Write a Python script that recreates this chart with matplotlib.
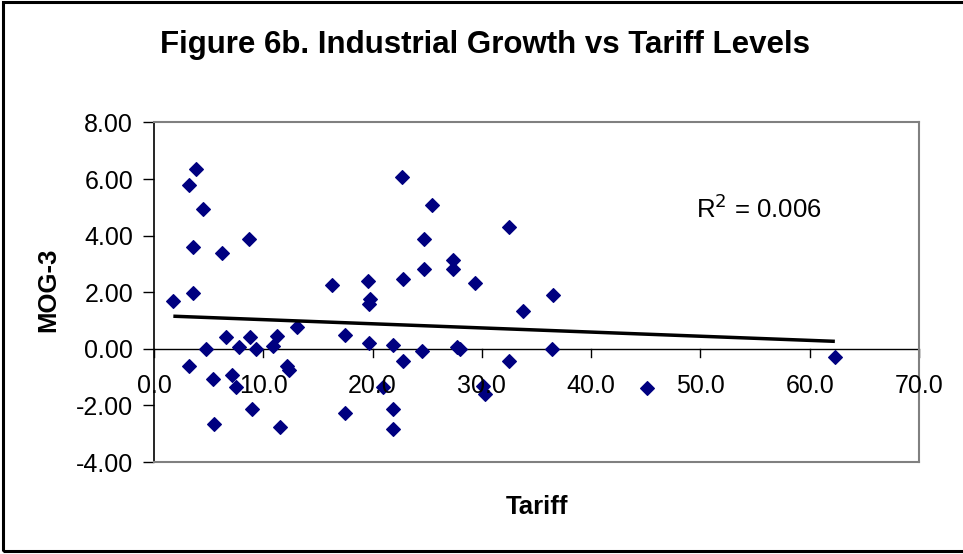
import numpy as np
import matplotlib
matplotlib.use('Agg')
import matplotlib.pyplot as plt
from matplotlib.patches import Rectangle

plt.rcParams['font.family'] = ['Liberation Sans', 'DejaVu Sans']

# 資料 (tariff, MOG-3)
tariff = [3.81, 3.23, 4.51, 3.60, 6.19, 8.72, 16.26, 3.60, 1.77,
          6.59, 8.78, 11.28, 13.11, 4.76, 7.80, 9.30, 10.92,
          3.23, 5.43, 7.11, 7.47, 12.14, 12.38, 8.94, 5.49, 11.53,
          22.66, 25.41, 32.50, 24.67, 27.40, 27.40, 24.67, 29.37,
          22.81, 19.55, 36.53, 19.76, 19.70, 33.79, 17.50, 19.70,
          21.90, 24.50, 27.70, 28.00, 22.80, 32.50, 36.40, 20.98,
          30.10, 30.30, 17.50, 21.90, 21.90, 62.30, 45.10]
mog3 = [6.35, 5.79, 4.94, 3.60, 3.37, 3.87, 2.27, 1.97, 1.68,
        0.41, 0.41, 0.44, 0.77, -0.02, 0.06, -0.02, 0.09,
        -0.59, -1.06, -0.92, -1.36, -0.59, -0.74, -2.13, -2.64, -2.75,
        6.08, 5.08, 4.31, 3.87, 3.13, 2.81, 2.83, 2.33,
        2.48, 2.40, 1.91, 1.77, 1.59, 1.33, 0.50, 0.21,
        0.14, -0.08, 0.05, 0.00, -0.44, -0.44, -0.02, -1.36,
        -1.30, -1.59, -2.28, -2.13, -2.83, -0.30, -1.38]

x_ticks = [0, 10, 20, 30, 40, 50, 60, 70]
y_ticks = [-4, -2, 0, 2, 4, 6, 8]

x = np.array(tariff)
y = np.array(mog3)
slope, intercept = np.polyfit(x, y, 1)
xt = np.array([x.min(), x.max()])

fig = plt.figure(figsize=(9.63, 5.54), dpi=100)
ax = fig.add_axes([154 / 963, 1 - 462 / 554, 765 / 963, 339.5 / 554])

ax.plot(x, y, 'D', color='#000080', ms=6.9, mec='#000080', mew=0.8, zorder=3)
ax.plot(xt, intercept + slope * xt, color='black', lw=2.5, zorder=4,
        solid_capstyle='butt')

ax.set_xlim(0, 70)
ax.set_ylim(-4, 8)
ax.set_yticks(y_ticks)
ax.set_yticklabels([f'{v:.2f}' for v in y_ticks], fontsize=18)
ax.set_xticks([])

for s in ['top', 'right', 'bottom']:
    ax.spines[s].set_color('#808080')
    ax.spines[s].set_linewidth(1.5)
ax.spines['left'].set_color('black')
ax.spines['left'].set_linewidth(1.2)
ax.tick_params(axis='y', direction='out', length=8, width=1, pad=7)

# 零線與X軸刻度
ax.axhline(0, color='black', lw=1, zorder=2)
for t in x_ticks:
    ax.plot([t, t], [0, -0.3], color='black', lw=1, zorder=2, clip_on=False)
    ax.text(t, -1.3, f'{t:.1f}', ha='center', va='center', fontsize=18)

ax.text(0.709, 0.745, 'R$^2$ = 0.006', transform=ax.transAxes,
        fontsize=18.5, ha='left', va='center')

fig.text(48 / 963, 1 - 290 / 554, 'MOG-3', fontsize=18.5, fontweight='bold',
         rotation=90, ha='center', va='center')
fig.text(537 / 963, 1 - 507 / 554, 'Tariff', fontsize=18.5, fontweight='bold',
         ha='center', va='center')
fig.text(485 / 963, 1 - 45 / 554, 'Figure 6b. Industrial Growth vs Tariff Levels',
         fontsize=22.5, fontweight='bold', ha='center', va='center')

fig.patches.append(Rectangle((3 / 963, 3 / 554), 1 - 2 / 963, 1 - 5 / 554,
                             transform=fig.transFigure, fill=False,
                             edgecolor='black', lw=2.2))

fig.savefig('out.png', dpi=100)
